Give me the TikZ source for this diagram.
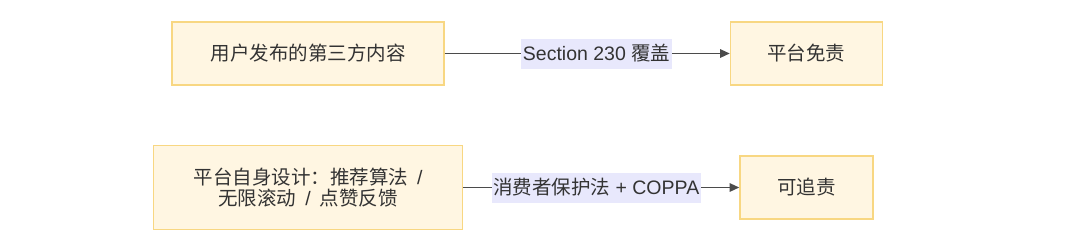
\documentclass[tikz,border=0pt]{standalone}
\usepackage{fontspec}
\usepackage{tikz}
\usepackage{xcolor}
\usetikzlibrary{positioning,arrows.meta}
\setmainfont{Liberation Sans}
\newfontfamily\cjk{Noto Sans CJK SC}
\definecolor{boxfill}{RGB}{255,246,226}
\definecolor{boxline}{RGB}{248,215,130}
\definecolor{labelfill}{RGB}{232,232,252}
\definecolor{textgray}{RGB}{51,51,51}
\definecolor{linegray}{RGB}{75,75,75}
\newcommand{\wslash}{\hspace{9pt}/\hspace{9pt}}

\begin{document}
\begin{tikzpicture}[
    x=1pt, y=-1pt,
    node distance=280pt,
    box/.style={rectangle, draw=boxline, fill=boxfill, line width=1.4pt, inner sep=0pt, text=textgray, font=\fontsize{19.5}{21}\selectfont, align=center},
    edgelabel/.style={rectangle, fill=labelfill, inner xsep=1.5pt, inner ysep=0pt, minimum height=30pt, text=textgray, font=\fontsize{19.5}{21}\selectfont},
    arrow/.style={-{Triangle[length=9.5pt, width=8.5pt]}, line width=1.3pt, draw=linegray}
]
\useasboundingbox (0,0) rectangle (1080,250);

% upper row
\node[box, minimum width=272pt, minimum height=63pt] (content) at (308,53.5) {\cjk 用户发布的第三方内容};
\node[box, minimum width=152pt, minimum height=63pt, right=285pt of content] (exempt) {\cjk 平台免责};

% lower row
\node[box, minimum width=309pt, minimum height=84pt] (design) at (308,187.5) {{\cjk 平台自身设计：推荐算法}\hspace{9pt}/\\{\cjk 无限滚动}\wslash{\cjk 点赞反馈}};
\node[box, minimum width=133pt, minimum height=63pt, right=276pt of design] (liable) {\cjk 可追责};

\draw[arrow] (content) -- node[edgelabel, pos=0.533] {Section 230 {\cjk 覆盖}} (exempt);
\draw[arrow] (design) -- node[edgelabel, pos=0.482] {{\cjk 消费者保护法} + COPPA} (liable);

\end{tikzpicture}
\end{document}
